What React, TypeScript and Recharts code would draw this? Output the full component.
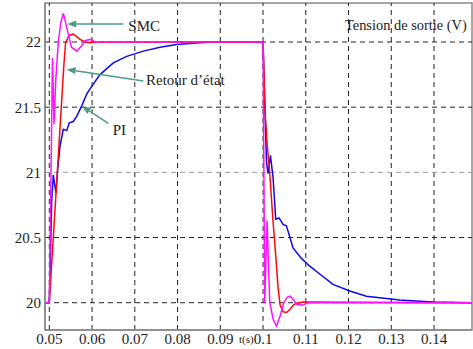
import React from "react";
import { LineChart, Line, XAxis, YAxis, ReferenceLine, ReferenceArea } from "recharts";

// ---- data ----
const X_TICKS = [0.05, 0.06, 0.07, 0.08, 0.09, 0.1, 0.11, 0.12, 0.13, 0.14];
const X_TICK_LABELS = ["0.05", "0.06", "0.07", "0.08", "0.09", "0.1", "0.11", "0.12", "0.13", "0.14"];
const Y_TICKS = [20, 20.5, 21, 21.5, 22];
const Y_TICK_LABELS = ["20", "20.5", "21", "21.5", "22"];

const SMC_T = [0.049, 0.05, 0.05075, 0.0511, 0.0515, 0.0521, 0.0527, 0.0533, 0.05444, 0.0552, 0.05647, 0.0575, 0.0584, 0.0596, 0.0607, 0.1, 0.1004, 0.10094, 0.10157, 0.1024, 0.10313, 0.104, 0.10484, 0.1056, 0.10625, 0.1069, 0.1078, 0.10915, 0.1105, 0.149];
const SMC_V = [20, 20, 21.88, 21.37, 21.7, 22.0, 22.15, 22.22, 22.06, 21.96, 21.93, 21.97, 22.01, 22.02, 22.0, 22.0, 20.0, 20.63, 20.0, 19.87, 19.82, 19.9, 20.0, 20.04, 20.05, 20.03, 19.99, 19.98, 20.0, 20.0];

const RET_T = [0.049, 0.05, 0.0529, 0.0534, 0.0538, 0.0546, 0.0556, 0.0572, 0.0584, 0.0595, 0.062, 0.1, 0.1005, 0.101, 0.1016, 0.1023, 0.103, 0.1035, 0.104, 0.1047, 0.1055, 0.1063, 0.1072, 0.1082, 0.1095, 0.149];
const RET_V = [20, 20, 21.55, 21.82, 21.99, 22.05, 22.06, 22.02, 22.0, 21.995, 22.0, 22.0, 21.45, 21.2, 20.98, 20.64, 20.35, 20.12, 19.98, 19.93, 19.925, 19.95, 19.985, 20.0, 20.005, 20.0];

const PI_T = [0.049, 0.05, 0.0503, 0.05056, 0.05094, 0.05157, 0.0519, 0.0525, 0.05327, 0.05407, 0.05468, 0.05561, 0.05641, 0.05758, 0.05875, 0.05952, 0.06186, 0.06497, 0.06811, 0.07199, 0.0759, 0.0798, 0.0837, 0.0876, 0.1, 0.1008, 0.10117, 0.10173, 0.10234, 0.10297, 0.10374, 0.10468, 0.10547, 0.10702, 0.10898, 0.11092, 0.11326, 0.11637, 0.12028, 0.12419, 0.13198, 0.13977, 0.1488];
const PI_V = [20, 20, 20.4, 20.78, 20.98, 20.84, 21.0, 21.2, 21.33, 21.32, 21.38, 21.39, 21.43, 21.51, 21.6, 21.64, 21.75, 21.84, 21.89, 21.93, 21.96, 21.98, 21.99, 22.0, 22.0, 21.08, 20.99, 21.13, 20.96, 20.64, 20.65, 20.6, 20.59, 20.42, 20.34, 20.28, 20.22, 20.14, 20.09, 20.05, 20.02, 20.005, 20.0];

const zip = (ts: number[], vs: number[]) => ts.map((t, i) => ({ t, v: vs[i] }));
const smcData = zip(SMC_T, SMC_V);
const retData = zip(RET_T, RET_V);
const piData = zip(PI_T, PI_V);

// annotations: [tail, tip] in data coordinates
const ANNOTATIONS = [
  { text: "SMC", tail: { x: 0.06731, y: 22.138 }, tip: { x: 0.05421, y: 22.138 }, dx: 5, dy: 6.5 },
  { text: "Retour d\u2019\u00e9tat", tail: { x: 0.07199, y: 21.7 }, tip: { x: 0.05407, y: 21.79 }, dx: 2.7, dy: 3.5 },
  { text: "PI", tail: { x: 0.0638, y: 21.376 }, tip: { x: 0.05758, y: 21.509 }, dx: 4.4, dy: 11.7 },
];

const X_DOMAIN = [0.048994, 0.14888];
const Y_DOMAIN = [19.7906, 22.2992];

const FONT = "Liberation Serif, Tinos, Times New Roman, DejaVu Serif, serif";
const TEAL = "#4e9b8b";

const makeArrow = (text: string, dx: number, dy: number) => (props: any) => {
  const { x1, y1, x2, y2 } = props;
  const ang = Math.atan2(y2 - y1, x2 - x1);
  const L = 9, W = 3.6;
  const bx = x2 - L * Math.cos(ang), by = y2 - L * Math.sin(ang);
  const px = -Math.sin(ang) * W, py = Math.cos(ang) * W;
  return (
    <g>
      <line x1={x1} y1={y1} x2={bx} y2={by} stroke={TEAL} strokeWidth={1.5} />
      <polygon points={`${x2},${y2} ${bx + px},${by + py} ${bx - px},${by - py}`} fill={TEAL} />
      <text x={x1 + dx} y={y1 + dy} style={{ fontFamily: FONT }} fontSize={15} fill="#222">{text}</text>
    </g>
  );
};

export default function App() {
  return (
    <div style={{ position: "absolute", left: 0, top: 0, width: 473, height: 349, background: "#fff", fontFamily: FONT }}>
      <LineChart width={473} height={349} margin={{ top: 3, right: 1, bottom: 0, left: 0 }} style={{ fontFamily: FONT }}>
        <XAxis
          type="number"
          dataKey="t"
          domain={X_DOMAIN}
          ticks={X_TICKS}
          allowDataOverflow
          tickFormatter={(v: number) => X_TICK_LABELS[X_TICKS.indexOf(v)] ?? String(v)}
          height={19}
          tickLine={false}
          tickSize={0}
          tickMargin={3}
          axisLine={{ stroke: "#8a8a8a", strokeWidth: 1.5 }}
          tick={{ fontSize: 15, fill: "#222", style: { fontFamily: FONT } }}
          interval={0}
        />
        <YAxis
          type="number"
          domain={Y_DOMAIN}
          ticks={Y_TICKS}
          allowDataOverflow
          tickFormatter={(v: number) => Y_TICK_LABELS[Y_TICKS.indexOf(v)] ?? String(v)}
          width={45}
          tickLine={false}
          tickSize={0}
          tickMargin={4}
          axisLine={{ stroke: "#8a8a8a", strokeWidth: 1.5 }}
          tick={{ fontSize: 15, fill: "#222", style: { fontFamily: FONT } }}
          interval={0}
        />
        <ReferenceArea x1={X_DOMAIN[0]} x2={X_DOMAIN[1]} y1={Y_DOMAIN[0]} y2={Y_DOMAIN[1]} fill="none" stroke="#8a8a8a" strokeWidth={1.5} fillOpacity={0} />
        {X_TICKS.map((t) => (
          <ReferenceLine key={"vx" + t} x={t} stroke="#222" strokeDasharray="5 4" strokeWidth={1} />
        ))}
        {Y_TICKS.map((v) => (
          <ReferenceLine key={"hy" + v} y={v} stroke={v === 21 ? "#9a9a9a" : "#222"} strokeDasharray="5 4" strokeWidth={1} />
        ))}
        <Line data={piData} dataKey="v" stroke="#0a0af0" strokeWidth={1.5} dot={false} isAnimationActive={false} type="linear" />
        <Line data={retData} dataKey="v" stroke="#ff0a0a" strokeWidth={1.5} dot={false} isAnimationActive={false} type="linear" />
        <Line data={smcData} dataKey="v" stroke="#ff10ff" strokeWidth={1.5} dot={false} isAnimationActive={false} type="linear" />
        {ANNOTATIONS.map((a) => (
          <ReferenceLine
            key={a.text}
            segment={[a.tail, a.tip]}
            shape={makeArrow(a.text, a.dx, a.dy)}
            ifOverflow="visible"
          />
        ))}
      </LineChart>
      <div style={{ position: "absolute", left: 345, top: 15, fontFamily: FONT, fontSize: 14.4, color: "#222", whiteSpace: "nowrap", lineHeight: "20px" }}>
        Tension de sortie (V)
      </div>
      <div style={{ position: "absolute", left: 239, top: 333, fontFamily: FONT, fontSize: 11, color: "#222", whiteSpace: "nowrap", lineHeight: "12px" }}>
        t(s)
      </div>
    </div>
  );
}
